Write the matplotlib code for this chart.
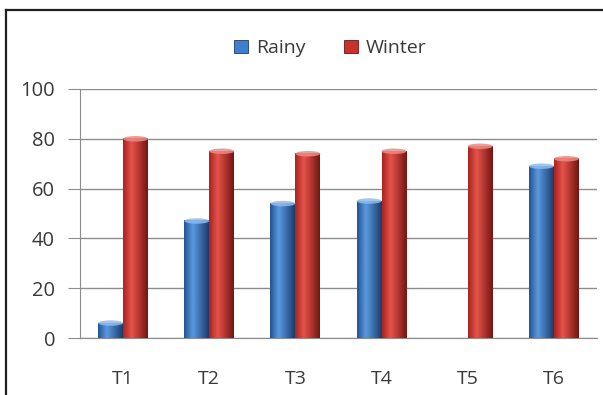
import numpy as np
import matplotlib
matplotlib.use("Agg")
import matplotlib.pyplot as plt
from matplotlib.colors import to_rgb
from matplotlib.patches import Ellipse, Rectangle
from matplotlib.lines import Line2D

plt.rcParams['font.family'] = ['Open Sans', 'DejaVu Sans']

categories = ["T1", "T2", "T3", "T4", "T5", "T6"]
rainy = [6, 47, 54, 55, 0, 69]
winter = [80, 75, 74, 75, 77, 72]
series_names = ["Rainy", "Winter"]

# left edge, highlight, right edge
blue_shades = ["#24528f", "#5a9ae2", "#1b3c6c"]
red_shades = ["#a8231f", "#e6534b", "#741511"]
blue_top = "#8cbcf0"
red_top = "#f08a84"


def gradient(shades, n=80):
    left, mid, right = (np.array(to_rgb(c)) for c in shades)
    t = np.linspace(0, 1, n)
    out = np.zeros((n, 3))
    for i, v in enumerate(t):
        if v < 0.35:
            f = v / 0.35
            out[i] = left * (1 - f) + mid * f
        else:
            f = (v - 0.35) / 0.65
            out[i] = mid * (1 - f) + right * f
    return out[np.newaxis, :, :]


def cylinder_bars(ax, xs, vals, width, shades, top_col):
    img = gradient(shades)
    for x, v in zip(xs, vals):
        if v <= 0:
            continue
        ax.imshow(img, extent=[x - width / 2, x + width / 2, 0, v],
                  aspect='auto', zorder=3, interpolation='bicubic')
        ax.add_patch(Ellipse((x, v), width, 2.2, facecolor=top_col,
                             edgecolor='none', zorder=4, alpha=0.85))


fig = plt.figure(figsize=(6.03, 3.95), dpi=100)
ax = fig.add_axes([0.1327, 0.1443, 0.8573, 0.6304])

x = np.arange(len(categories))
w = 0.29
cylinder_bars(ax, x - w / 2, rainy, w, blue_shades, blue_top)
cylinder_bars(ax, x + w / 2, winter, w, red_shades, red_top)

ax.set_xlim(-0.5, len(categories) - 0.5)
ax.set_ylim(0, 100)
ax.set_yticks(range(0, 101, 20))
ax.set_xticks(x)
ax.set_xticklabels(categories)
ax.yaxis.grid(True, color="#8c8c8c", linewidth=1.0, zorder=0)
ax.set_axisbelow(True)
for side in ["top", "right"]:
    ax.spines[side].set_visible(False)
ax.spines["left"].set_color("#8c8c8c")
ax.spines["bottom"].set_color("#8c8c8c")
ax.tick_params(axis='y', length=9, color="#8c8c8c", pad=9,
               labelsize=14.5, labelcolor="#3a3a3a")
ax.tick_params(axis='x', length=0, pad=23, labelsize=14, labelcolor="#3a3a3a")

handles = [Rectangle((0, 0), 1, 1, facecolor="#3f7fce", edgecolor="#1b3c6c", lw=0.6),
           Rectangle((0, 0), 1, 1, facecolor="#c8302c", edgecolor="#701411", lw=0.6)]
fig.legend(handles, series_names, loc='center', bbox_to_anchor=(0.548, 0.878),
           ncol=2, frameon=False, fontsize=14, handlelength=0.7, handleheight=0.7,
           handletextpad=0.4, columnspacing=2.0, labelcolor="#3a3a3a")

# outer chart frame (left and top edges)
fig.add_artist(Line2D([0.0105, 0.0105], [0, 0.975], color="#202020", lw=1.6,
                      transform=fig.transFigure))
fig.add_artist(Line2D([0.0105, 1.0], [0.975, 0.975], color="#202020", lw=1.6,
                      transform=fig.transFigure))

fig.savefig("out.png", dpi=100)
